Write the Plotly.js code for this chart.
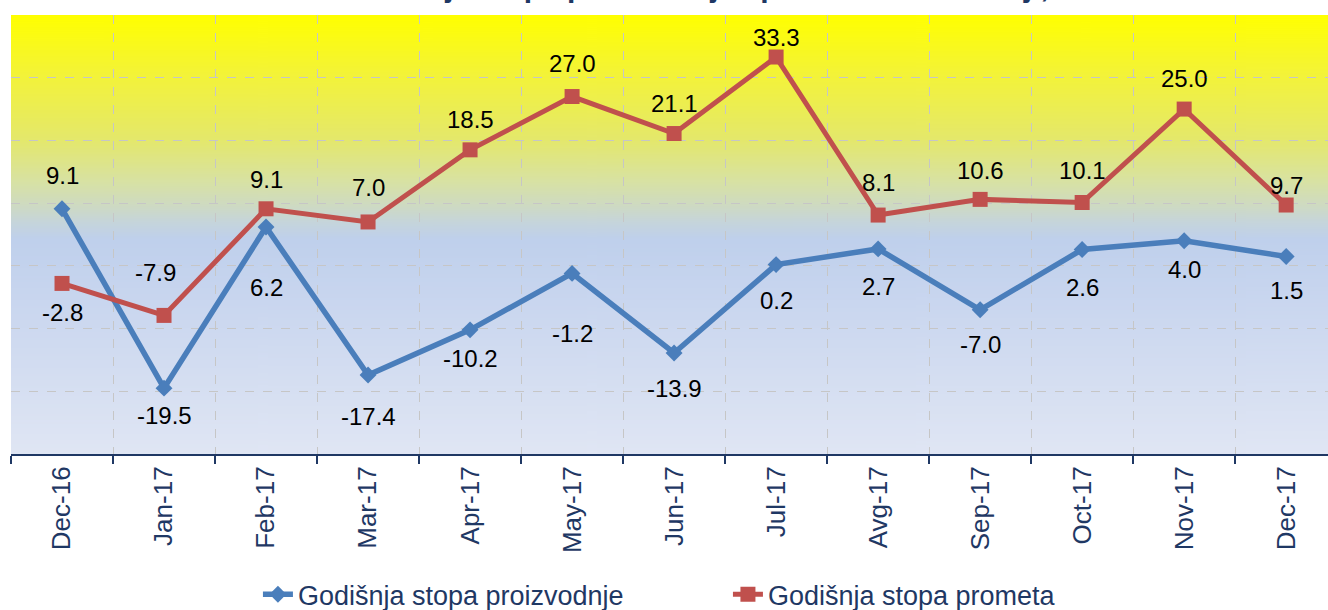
<!DOCTYPE html>
<html>
<head>
<meta charset="utf-8">
<script src="https://cdn.plot.ly/plotly-3.0.1.min.js"></script>
<style>
  html, body { margin: 0; padding: 0; background: #ffffff; }
  #chart { width: 1328px; height: 610px; }
</style>
</head>
<body>
<div id="chart"></div>
<script>
// ---- data ----
const months = ["Dec-16", "Jan-17", "Feb-17", "Mar-17", "Apr-17", "May-17", "Jun-17",
                "Jul-17", "Avg-17", "Sep-17", "Oct-17", "Nov-17", "Dec-17"];
const proizvodnja = [9.1, -19.5, 6.2, -17.4, -10.2, -1.2, -13.9, 0.2, 2.7, -7.0, 2.6, 4.0, 1.5];
const promet = [-2.8, -7.9, 9.1, 7.0, 18.5, 27.0, 21.1, 33.3, 8.1, 10.6, 10.1, 25.0, 9.7];
const seriesNames = ["Godišnja stopa proizvodnje", "Godišnja stopa prometa"];
const titleText = "Godišnja stopa proizvodnje i prometa u industriji, %";

// ---- label placement (pixel offsets, styling only) ----
const blueLabelShift = [33, -27, -61, -42, -29, -60, -35, -36, -38, -35, -38, -29, -34];
const redLabelShift  = [-29, 43, 29, 34, 30, 33, 30, 20, 33, 29, 32, 31, 20];

// ---- styles ----
const NAVY = "#1f3864";
const BLUE = "#4a7ebb";
const RED = "#c0504d";
const FONT = "Liberation Sans, Arial, sans-serif";

// gradient background for plot area
function gradientURL() {
  const c = document.createElement("canvas");
  c.width = 8; c.height = 440;
  const g = c.getContext("2d");
  const grad = g.createLinearGradient(0, 0, 0, 440);
  grad.addColorStop(0.00, "#ffff00");
  grad.addColorStop(0.14, "#f3f33a");
  grad.addColorStop(0.285, "#e4e86c");
  grad.addColorStop(0.38, "#d8e2a4");
  grad.addColorStop(0.43, "#cfdbc0");
  grad.addColorStop(0.47, "#c6d5da");
  grad.addColorStop(0.51, "#bfd0ec");
  grad.addColorStop(0.65, "#c9d6ef");
  grad.addColorStop(1.00, "#e0e6f4");
  g.fillStyle = grad;
  g.fillRect(0, 0, 8, 440);
  return c.toDataURL("image/png");
}

const traces = [
  {
    x: months, y: proizvodnja, name: seriesNames[0], type: "scatter", mode: "lines+markers",
    line: { color: BLUE, width: 5.5 },
    marker: { symbol: "diamond", size: 13, color: BLUE },
    hoverinfo: "skip"
  },
  {
    x: months, y: promet, name: seriesNames[1], type: "scatter", mode: "lines+markers",
    line: { color: RED, width: 5 },
    marker: { symbol: "square", size: 15, color: RED },
    hoverinfo: "skip"
  }
];

const annotations = [];
months.forEach((m, i) => {
  annotations.push({
    x: m, y: proizvodnja[i], xref: "x", yref: "y", showarrow: false,
    text: proizvodnja[i].toFixed(1), yshift: blueLabelShift[i],
    font: { family: FONT, size: 24, color: "#000000" }
  });
  annotations.push({
    x: m, y: promet[i], xref: "x", yref: "y", showarrow: false,
    text: promet[i].toFixed(1), yshift: redLabelShift[i],
    xshift: i === 1 ? -9 : 0,
    font: { family: FONT, size: 24, color: "#000000" }
  });
});
// title (cropped at the top of the picture, as in the reference)
annotations.push({
  xref: "paper", yref: "paper", x: 0.25, y: 1, xanchor: "left", yanchor: "bottom",
  yshift: 10, showarrow: false, text: "<b>" + titleText + "</b>",
  font: { family: FONT, size: 30, color: NAVY }
});

const layout = {
  width: 1328, height: 610,
  margin: { l: 11, r: 0, t: 15, b: 156 },
  paper_bgcolor: "#ffffff",
  plot_bgcolor: "rgba(0,0,0,0)",
  showlegend: true,
  legend: {
    orientation: "h", x: 0.1875, xanchor: "left", y: 0.025, yref: "container", yanchor: "middle",
    font: { family: FONT, size: 27, color: NAVY },
    entrywidth: 425, entrywidthmode: "pixels",
    bgcolor: "rgba(0,0,0,0)"
  },
  xaxis: {
    type: "category",
    range: [-0.5, 12.41],
    tickson: "boundaries",
    ticks: "outside", ticklen: 8, tickwidth: 2, tickcolor: NAVY,
    showline: true, linecolor: NAVY, linewidth: 2,
    showgrid: true, gridcolor: "#c6c6c6", griddash: "dash", gridwidth: 1,
    tickangle: -90,
    tickfont: { family: FONT, size: 26, color: NAVY },
    fixedrange: true
  },
  yaxis: {
    range: [-30, 40], dtick: 10, tick0: 0,
    showticklabels: false, ticks: "",
    showline: false, zeroline: false,
    showgrid: true, gridcolor: "#c6c6c6", griddash: "dash", gridwidth: 1,
    fixedrange: true
  },
  images: [{
    source: gradientURL(), xref: "paper", yref: "paper", x: 0, y: 1,
    sizex: 1, sizey: 1, sizing: "stretch", xanchor: "left", yanchor: "top", layer: "below"
  }],
  annotations: annotations
};

Plotly.newPlot("chart", traces, layout, { displayModeBar: false, staticPlot: true });
</script>
</body>
</html>
